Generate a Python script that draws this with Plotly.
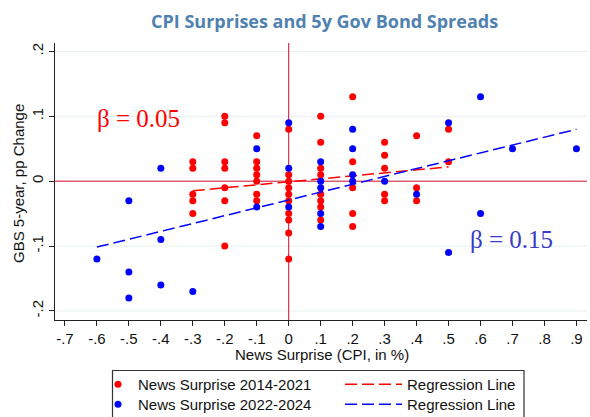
import plotly.graph_objects as go

# CPI news surprise (x, in %) vs 5-year government bond spread change (y, pp)
RED_X = [-0.3, -0.3, -0.3, -0.3, -0.3,
         -0.2, -0.2, -0.2, -0.2, -0.2, -0.2, -0.2,
         -0.1, -0.1, -0.1, -0.1, -0.1, -0.1, -0.1,
         0.0, 0.0, 0.0, 0.0, 0.0, 0.0, 0.0, 0.0, 0.0, 0.0,
         0.1, 0.1, 0.1, 0.1, 0.1, 0.1, 0.1, 0.1,
         0.2, 0.2, 0.2, 0.2, 0.2,
         0.3, 0.3, 0.3, 0.3, 0.3,
         0.4, 0.4, 0.4,
         0.5, 0.5]
RED_Y = [0.03, 0.02, -0.02, -0.03, -0.05,
         0.10, 0.09, 0.03, 0.02, -0.01, -0.03, -0.10,
         0.07, 0.03, 0.02, 0.01, 0.00, -0.02, -0.03,
         0.08, 0.01, 0.00, -0.01, -0.02, -0.03, -0.05, -0.06, -0.08, -0.12,
         0.10, 0.06, 0.02, 0.01, -0.02, -0.03, -0.04, -0.06,
         0.13, 0.03, -0.01, -0.05, -0.07,
         0.06, 0.04, 0.02, -0.02, -0.03,
         0.07, -0.01, -0.03,
         0.08, 0.03]

BLUE_X = [-0.6,
          -0.5, -0.5, -0.5,
          -0.4, -0.4, -0.4,
          -0.3,
          -0.1, -0.1,
          0.0, 0.0, 0.0,
          0.1, 0.1, 0.1, 0.1, 0.1,
          0.2, 0.2, 0.2, 0.2,
          0.3,
          0.4,
          0.5, 0.5,
          0.6, 0.6,
          0.7,
          0.9]
BLUE_Y = [-0.12,
          -0.03, -0.14, -0.18,
          0.02, -0.09, -0.16,
          -0.17,
          0.05, -0.04,
          0.09, 0.02, -0.04,
          0.03, 0.00, -0.01, -0.05, -0.07,
          0.08, 0.05, 0.01, 0.00,
          0.00,
          -0.02,
          0.09, -0.11,
          0.13, -0.05,
          0.05,
          0.05]

# Fitted regression lines (intercept, slope)
RED_FIT = (-0.001, 0.046)
BLUE_FIT = (-0.029, 0.121)

BETA_TEXT = ["β = 0.05", "β = 0.15"]

X_TICKS = [-0.7, -0.6, -0.5, -0.4, -0.3, -0.2, -0.1, 0.0,
           0.1, 0.2, 0.3, 0.4, 0.5, 0.6, 0.7, 0.8, 0.9]
X_TICK_TEXT = ["-.7", "-.6", "-.5", "-.4", "-.3", "-.2", "-.1", "0",
               ".1", ".2", ".3", ".4", ".5", ".6", ".7", ".8", ".9"]
Y_TICKS = [-0.2, -0.1, 0.0, 0.1, 0.2]
Y_TICK_TEXT = ["-.2", "-.1", "0", ".1", ".2"]

# page geometry
W, H = 590, 417
ML, MR, MT, MB = 55, 3, 43, 97
PW, PH = W - ML - MR, H - MT - MB


def px(xp):
    return (xp - ML) / PW


def py(yp):
    return (H - MB - yp) / PH


RED = "#ff0000"
BLUE = "#0000ff"
REF = "#cc0a2f"
GRID = "#e6eeef"
INK = "#111111"
SANS = "Liberation Sans, Arial, sans-serif"
SERIF = "Liberation Serif, Times New Roman, serif"
FS = 15


def fit_line(xs, coef):
    lo, hi = min(xs), max(xs)
    b0, b1 = coef
    return [lo, hi], [b0 + b1 * lo, b0 + b1 * hi]


rx, ry = fit_line(RED_X, RED_FIT)
bx, by = fit_line(BLUE_X, BLUE_FIT)

DASH = "12px,5px"

fig = go.Figure()
fig.add_trace(go.Scatter(x=RED_X, y=RED_Y, mode="markers", name="News Surprise 2014-2021",
                         marker=dict(color=RED, size=7), legend="legend", showlegend=True))
fig.add_trace(go.Scatter(x=rx, y=ry, mode="lines", name="Regression Line",
                         line=dict(color=RED, width=1.5, dash=DASH), legend="legend2"))
fig.add_trace(go.Scatter(x=BLUE_X, y=BLUE_Y, mode="markers", name="News Surprise 2022-2024",
                         marker=dict(color=BLUE, size=7), legend="legend3"))
fig.add_trace(go.Scatter(x=bx, y=by, mode="lines", name="Regression Line",
                         line=dict(color=BLUE, width=1.5, dash=DASH), legend="legend4"))

# horizontal grid at the non-zero y ticks
for yv in Y_TICKS:
    if yv != 0:
        fig.add_shape(type="line", xref="paper", yref="y", x0=0, x1=1, y0=yv, y1=yv,
                      line=dict(color=GRID, width=1), layer="below")

# zero reference lines
fig.add_shape(type="line", xref="paper", yref="y", x0=0, x1=1, y0=0, y1=0,
              line=dict(color=REF, width=1), layer="below")
fig.add_shape(type="line", xref="x", yref="paper", x0=0, x1=0, y0=0, y1=1,
              line=dict(color=REF, width=1), layer="below")

# legend frame
fig.add_shape(type="rect", xref="paper", yref="paper",
              x0=px(112.5), x1=px(524), y0=py(370.5), y1=py(440),
              line=dict(color="#333333", width=1.2), fillcolor="rgba(0,0,0,0)")

fig.add_annotation(text="CPI Surprises and 5y Gov Bond Spreads", xref="paper", yref="paper",
                   x=px(324), y=py(21), xanchor="center", yanchor="middle", showarrow=False,
                   font=dict(family="Open Sans", size=18, color="#4f81b1", weight="bold"))
fig.add_annotation(text="GBS 5-year, pp Change", xref="paper", yref="paper",
                   x=px(18), y=py(184), textangle=-90, xanchor="center", yanchor="middle",
                   showarrow=False, font=dict(family=SANS, size=FS, color=INK))
fig.add_annotation(text="News Surprise (CPI, in %)", xref="paper", yref="paper",
                   x=px(322), y=py(354.5), xanchor="center", yanchor="middle",
                   showarrow=False, font=dict(family=SANS, size=FS, color=INK))
fig.add_annotation(text=BETA_TEXT[0], x=-0.605, y=0.097, xanchor="left", yanchor="middle",
                   showarrow=False, font=dict(family=SERIF, size=25, color=RED))
fig.add_annotation(text=BETA_TEXT[1], x=0.562, y=-0.09, xanchor="left", yanchor="middle",
                   showarrow=False, font=dict(family=SERIF, size=25, color="#3a3ac8"))


def legend_box(x_px, y_px, itemwidth=30):
    return dict(x=px(x_px), y=py(y_px), xanchor="left", yanchor="middle",
                orientation="v", bgcolor="rgba(0,0,0,0)", borderwidth=0,
                itemwidth=itemwidth, font=dict(family=SANS, size=FS, color=INK))


fig.update_layout(
    width=W, height=H,
    showlegend=True,
    margin=dict(l=ML, r=MR, t=MT, b=MB, autoexpand=False),
    paper_bgcolor="white", plot_bgcolor="white",
    font=dict(family=SANS, size=FS, color=INK),
    legend=legend_box(98, 384.5),
    legend2=legend_box(340, 384.5, 57),
    legend3=legend_box(98, 404.5),
    legend4=legend_box(340, 404.5, 57),
    xaxis=dict(range=[-0.731, 0.933], tickvals=X_TICKS, ticktext=X_TICK_TEXT,
               showgrid=False, zeroline=False, showline=True, linecolor="#222222", linewidth=1,
               ticks="outside", ticklen=5, tickcolor="#222222",
               tickfont=dict(family=SANS, size=FS, color=INK)),
    yaxis=dict(range=[-0.214, 0.213], tickvals=Y_TICKS, ticktext=Y_TICK_TEXT, tickangle=-90,
               showgrid=False, zeroline=False,
               showline=True, linecolor="#222222", linewidth=1,
               ticks="outside", ticklen=5, tickcolor="#222222",
               tickfont=dict(family=SANS, size=FS, color=INK)),
)

fig.write_html("out.html")
